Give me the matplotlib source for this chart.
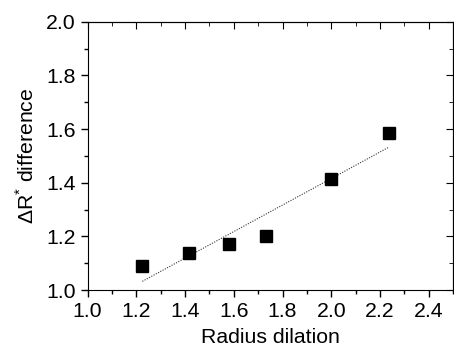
import numpy as np
import matplotlib
matplotlib.use('Agg')
import matplotlib.pyplot as plt
from matplotlib.ticker import MultipleLocator

# Radius dilation vs. Delta R* difference
dilation = [1.2247, 1.4142, 1.5811, 1.7321, 2.0, 2.2361]
diff = [1.090, 1.137, 1.171, 1.200, 1.415, 1.586]

plt.rcParams['font.family'] = ['Liberation Sans', 'DejaVu Sans']
plt.rcParams['mathtext.fontset'] = 'custom'
plt.rcParams['mathtext.rm'] = 'Liberation Sans'

fig = plt.figure(figsize=(4.54, 3.47), dpi=100)
ax = fig.add_axes([0.193, 0.164, 0.805, 0.7735])

# linear fit
res = np.polyfit(dilation, diff, 1)
xf = np.array([min(dilation), max(dilation)])
ax.plot(xf, np.poly1d(res)(xf), color='#333333', lw=0.8, ls=(0, (1, 1.3)))

ax.plot(dilation, diff, 's', color='black', ms=9, zorder=3)

ax.set_xlim(1.0, 2.5)
ax.set_ylim(1.0, 2.0)
ax.xaxis.set_major_locator(MultipleLocator(0.2))
ax.xaxis.set_minor_locator(MultipleLocator(0.1))
ax.yaxis.set_major_locator(MultipleLocator(0.2))
ax.yaxis.set_minor_locator(MultipleLocator(0.1))
ax.set_xticks([1.0, 1.2, 1.4, 1.6, 1.8, 2.0, 2.2, 2.4])
ax.tick_params(which='both', direction='out', labelsize=15.3, width=1)
ax.tick_params(which='major', length=5)
ax.tick_params(which='minor', length=3)

# mirrored ticks on top/right pointing inward
axt = ax.secondary_xaxis('top')
axt.xaxis.set_major_locator(MultipleLocator(0.2))
axt.xaxis.set_minor_locator(MultipleLocator(0.1))
axt.tick_params(which='both', direction='in', labeltop=False)
axt.tick_params(which='major', length=5)
axt.tick_params(which='minor', length=3)
axr = ax.secondary_yaxis('right')
axr.yaxis.set_major_locator(MultipleLocator(0.2))
axr.yaxis.set_minor_locator(MultipleLocator(0.1))
axr.tick_params(which='both', direction='in', labelright=False)
axr.tick_params(which='major', length=5)
axr.tick_params(which='minor', length=3)

ax.set_xlabel('Radius dilation', fontsize=15.3, labelpad=5)
ax.set_ylabel(r'$\Delta$R$^{*}$ difference', fontsize=15.3, labelpad=6)

fig.savefig('out.png', dpi=100)
